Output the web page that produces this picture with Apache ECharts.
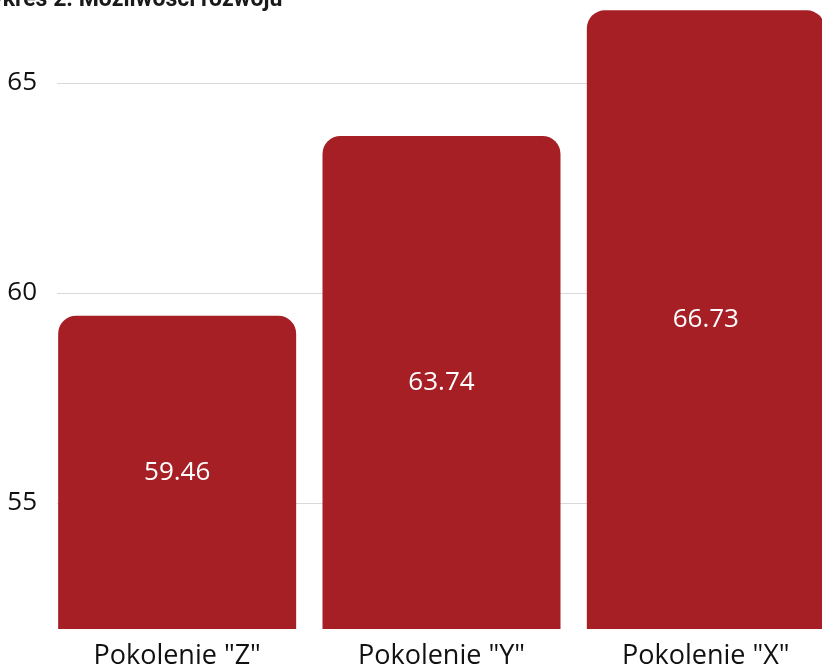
<!DOCTYPE html>
<html>
<head>
<meta charset="utf-8">
<script src="https://cdn.jsdelivr.net/npm/echarts@6/dist/echarts.min.js"></script>
<style>
  html, body { margin: 0; padding: 0; background: #fff; }
  #chart { width: 822px; height: 666px; }
</style>
</head>
<body>
<div id="chart"></div>
<script>
// Data
const categories = ['Pokolenie "Z"', 'Pokolenie "Y"', 'Pokolenie "X"'];
const values = [59.46, 63.74, 66.73];
const titleText = 'Wykres 2. Możliwości rozwoju';

const barColor = '#a61f25';
const font = '"Open Sans", sans-serif';

const chart = echarts.init(document.getElementById('chart'), null, { renderer: 'canvas' });

chart.setOption({
  animation: false,
  backgroundColor: '#ffffff',
  graphic: [{
    type: 'text',
    left: -29,
    top: -11,
    style: {
      text: titleText,
      font: 'bold 23px Roboto, sans-serif',
      fill: '#1a1a1a'
    }
  }],
  grid: [
    // value scale with gridlines
    { left: 57, right: 0, top: -127, bottom: -47, outerBoundsMode: 'none', containLabel: false },
    // bars
    { left: 45, right: -16, top: -1, bottom: 37, outerBoundsMode: 'none', containLabel: false }
  ],
  xAxis: [
    { type: 'category', gridIndex: 0, data: categories, show: false },
    {
      type: 'category', gridIndex: 1, data: categories,
      axisLine: { show: false },
      axisTick: { show: false },
      axisLabel: { fontFamily: font, fontSize: 27, color: '#111111', margin: 14 }
    }
  ],
  yAxis: [
    {
      type: 'value', gridIndex: 0, min: 50, max: 70, interval: 5,
      axisLine: { show: false },
      axisTick: { show: false },
      axisLabel: { fontFamily: font, fontSize: 26, color: '#111111', margin: 20 },
      splitLine: { lineStyle: { color: '#d9d9d9', width: 1 } }
    },
    { type: 'value', gridIndex: 1, min: 52, max: 67, show: false }
  ],
  series: [{
    type: 'bar',
    xAxisIndex: 1,
    yAxisIndex: 1,
    data: values,
    barWidth: 238,
    itemStyle: { color: barColor, borderRadius: [18, 18, 0, 0] },
    label: {
      show: true,
      position: 'inside',
      fontFamily: font,
      fontSize: 26,
      color: '#ffffff',
      formatter: p => p.value.toFixed(2)
    }
  }]
});
</script>
</body>
</html>
